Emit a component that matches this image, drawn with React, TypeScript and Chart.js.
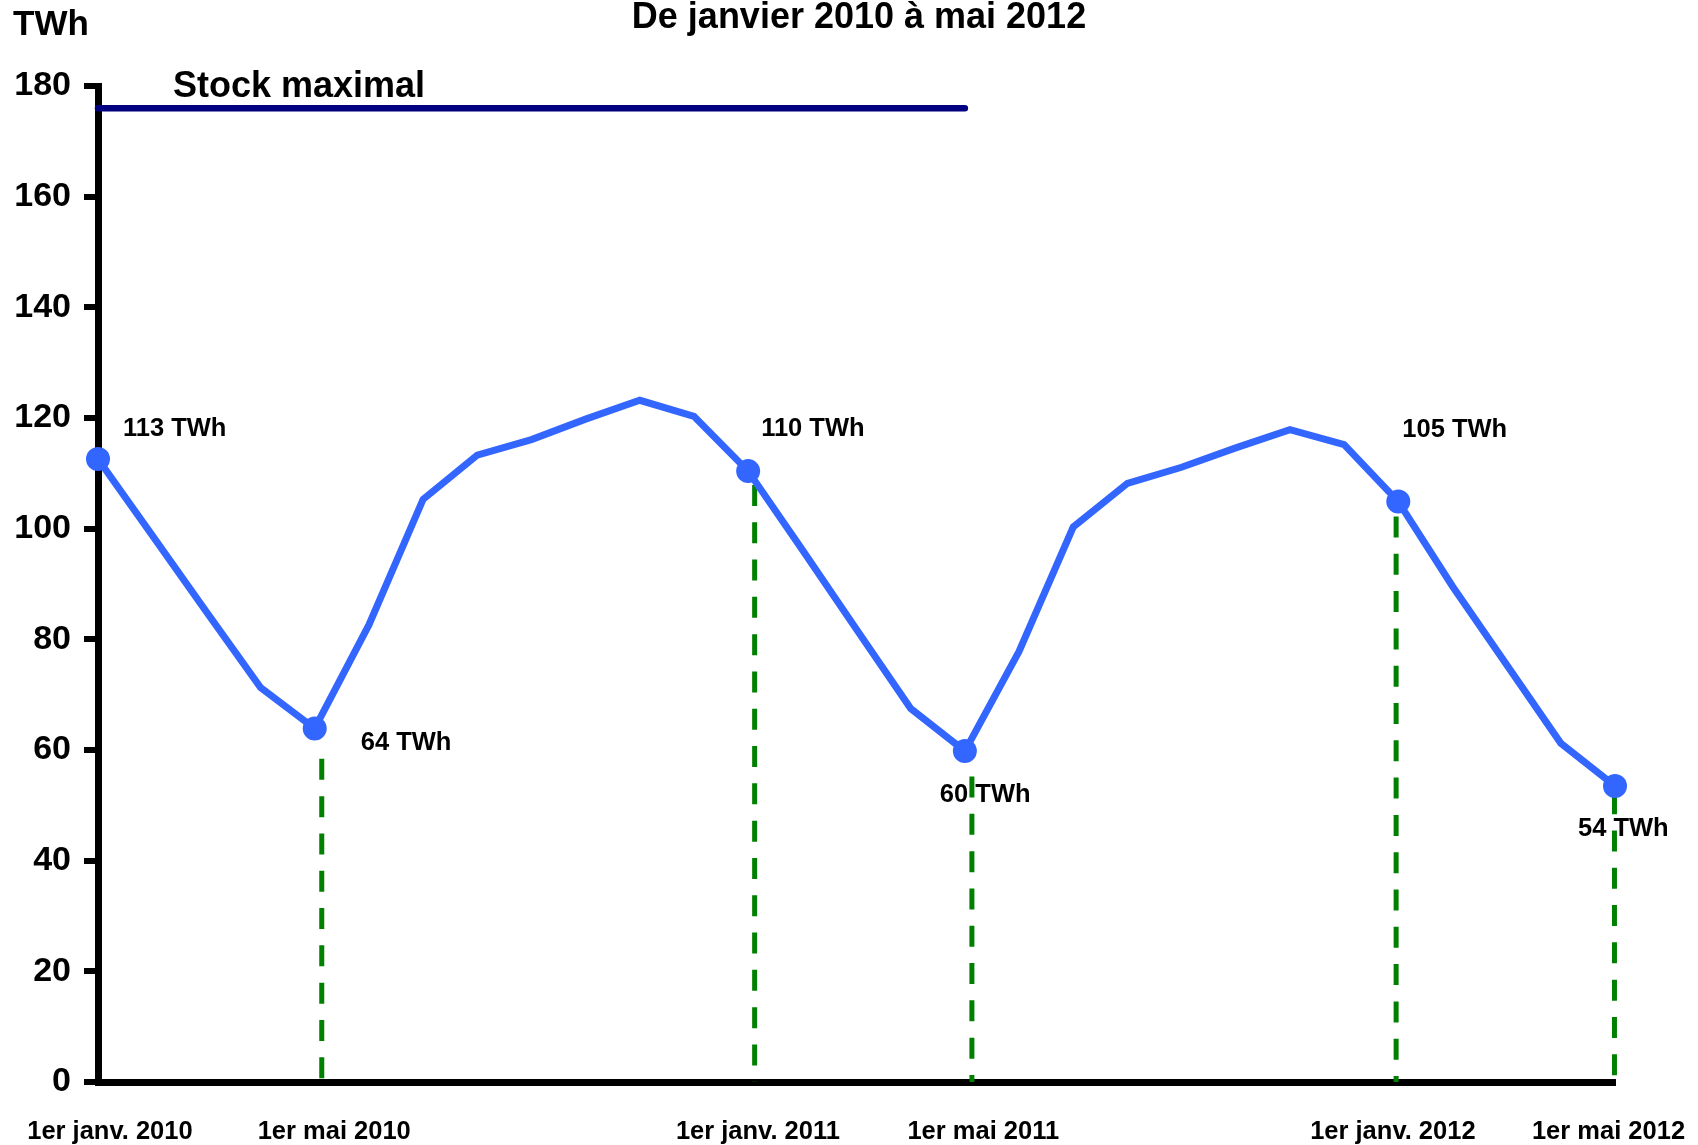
import React, { useEffect, useRef } from "react";
import { Chart, registerables } from "chart.js";

Chart.register(...registerables);

// ---- Data ----
// Monthly storage level (TWh), January 2010 (index 0) to May 2012 (index 28)
const storageTWh = [
  112.6, 98.8, 85.0, 71.3, 63.9, 82.6, 105.3, 113.3, 116.1, 119.8, 123.2, 120.3,
  110.4, 96.2, 81.8, 67.5, 59.8, 77.8, 100.3, 108.2, 111.1, 114.6, 117.9, 115.2,
  104.9, 89.6, 75.4, 61.2, 53.5,
];
const markedIndex = [0, 4, 12, 16, 24, 28];
const markedLabels = ["113 TWh", "64 TWh", "110 TWh", "60 TWh", "105 TWh", "54 TWh"];

const xTickLabels = [
  "1er janv. 2010",
  "1er mai 2010",
  "1er janv. 2011",
  "1er mai 2011",
  "1er janv. 2012",
  "1er mai 2012",
];
const xTickMonths = [0.22, 4.36, 12.18, 16.34, 23.9, 27.88];

const stockMaxValue = 176;
const stockMaxEndMonth = 16;

const dropMonths = [4.13, 12.12, 16.13, 23.96, 27.99];
const dropTops = [58.4, 107.9, 55.2, 102.2, 52.2];

const yMin = 0;
const yMax = 180;
const yStep = 20;

const titleText = "De janvier 2010 à mai 2012";
const unitText = "TWh";
const stockMaxText = "Stock maximal";

// ---- Layout / style (kept apart from data) ----
const W = 1698;
const H = 1145;
const FONT = '"Liberation Sans", Arial, Helvetica, sans-serif';
const BLUE = "rgb(51,102,255)";
const NAVY = "#000080";
const GREEN = "#008000";
// pixel offsets of the point labels: [dx to text left, dy to text middle]
const labelOffsets = [
  [25, -30],
  [46, 15],
  [13, -42],
  [-25, 44],
  [4, -72],
  [-37, 43],
];

export default function App() {
  const ref = useRef<HTMLCanvasElement | null>(null);

  useEffect(() => {
    const canvas = ref.current;
    if (!canvas) return;

    const lineData = storageTWh.map((v, i) => ({ x: i, y: v }));
    const radii = storageTWh.map((_, i) => (markedIndex.includes(i) ? 12 : 0));

    const dropSets = dropMonths.map((m, k) => ({
      type: "line" as const,
      data: [
        { x: m, y: dropTops[k] },
        { x: m, y: 0 },
      ],
      borderColor: GREEN,
      borderWidth: 5,
      borderDash: [21, 16.3],
      pointRadius: 0,
      clip: false as any,
    }));

    const textPlugin = {
      id: "texts",
      afterDatasetsDraw(chart: any) {
        const ctx = chart.ctx;
        ctx.save();
        ctx.fillStyle = "#000";
        ctx.textBaseline = "middle";

        ctx.font = `bold 36px ${FONT}`;
        ctx.textAlign = "center";
        ctx.fillText(titleText, 859, 18);

        ctx.textAlign = "left";
        ctx.font = `bold 35px ${FONT}`;
        ctx.fillText(unitText, 13, 25);

        ctx.font = `bold 36px ${FONT}`;
        ctx.fillText(stockMaxText, 173, 87);

        const meta = chart.getDatasetMeta(0);
        ctx.font = `bold 25.5px ${FONT}`;
        markedIndex.forEach((idx, k) => {
          const p = meta.data[idx];
          const [dx, dy] = labelOffsets[k];
          ctx.fillText(markedLabels[k], p.x + dx, p.y + dy);
        });
        ctx.restore();
      },
    };

    const chart = new Chart(canvas, {
      type: "line",
      data: {
        datasets: [
          {
            data: lineData,
            borderColor: BLUE,
            backgroundColor: BLUE,
            borderWidth: 7,
            pointRadius: radii,
            pointBackgroundColor: BLUE,
            pointBorderWidth: 0,
            tension: 0,
            clip: false as any,
          },
          {
            data: [
              { x: 0, y: stockMaxValue },
              { x: stockMaxEndMonth, y: stockMaxValue },
            ],
            borderColor: NAVY,
            borderWidth: 6.5,
            borderCapStyle: "round",
            pointRadius: 0,
            clip: false as any,
          },
          ...dropSets,
        ] as any,
      },
      options: {
        animation: false,
        responsive: false,
        maintainAspectRatio: false,
        events: [],
        layout: { padding: { left: 0, top: 86, right: 83, bottom: 0 } },
        plugins: {
          legend: { display: false },
          tooltip: { enabled: false },
          title: { display: false },
        },
        scales: {
          x: {
            type: "linear",
            min: 0,
            max: 28,
            afterFit: (s: any) => {
              s.height = 63;
              s.paddingLeft = 0;
              s.paddingRight = 0;
            },
            afterBuildTicks: (s: any) => {
              s.ticks = xTickMonths.map((v) => ({ value: v }));
            },
            ticks: {
              autoSkip: false,
              maxRotation: 0,
              minRotation: 0,
              padding: 35,
              color: "#000",
              font: { family: FONT, size: 25.5, weight: "bold" },
              callback: (_v: any, i: number) => xTickLabels[i],
            },
            grid: { display: false, drawOnChartArea: false, drawTicks: false },
            border: { display: true, color: "#000", width: 7 },
          },
          y: {
            min: yMin,
            max: yMax,
            afterFit: (s: any) => {
              s.width = 98;
              s.paddingTop = 0;
              s.paddingBottom = 0;
            },
            ticks: {
              stepSize: yStep,
              padding: 13,
              color: "#000",
              font: { family: FONT, size: 34, weight: "bold" },
            },
            grid: {
              display: true,
              drawOnChartArea: false,
              drawTicks: true,
              tickLength: 14,
              color: "#000",
              lineWidth: 6,
            },
            border: { display: true, color: "#000", width: 7 },
          },
        },
      } as any,
      plugins: [textPlugin],
    });

    return () => chart.destroy();
  }, []);

  return (
    <div style={{ position: "absolute", left: 0, top: 0, width: W, height: H, background: "#fff" }}>
      <canvas ref={ref} width={W} height={H} style={{ display: "block", width: W, height: H }} />
    </div>
  );
}
